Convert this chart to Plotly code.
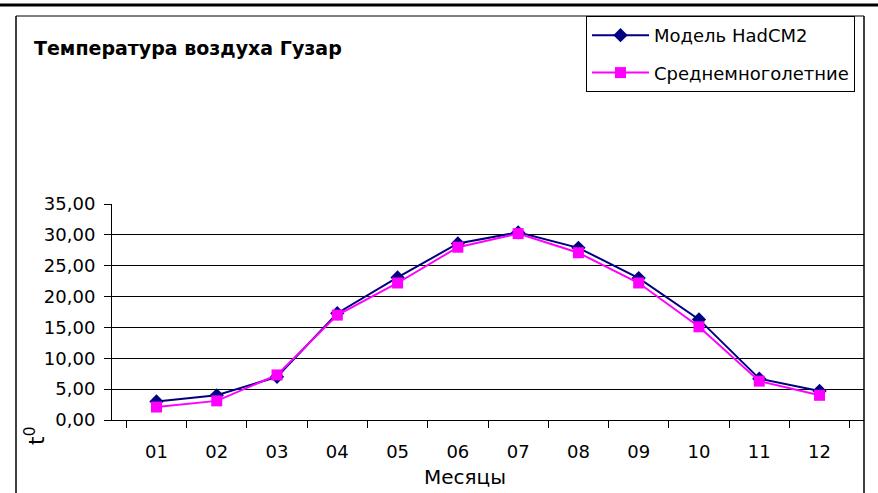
import plotly.graph_objects as go

months = ["01", "02", "03", "04", "05", "06", "07", "08", "09", "10", "11", "12"]
model_hadcm2 = [3.0, 4.0, 7.0, 17.3, 23.1, 28.6, 30.4, 27.9, 23.0, 16.3, 6.7, 4.7]
long_term_mean = [2.1, 3.1, 7.3, 17.0, 22.2, 28.0, 30.2, 27.1, 22.2, 15.1, 6.3, 4.0]
series_names = ["Модель HadCM2", "Среднемноголетние"]
y_ticks = [0, 5, 10, 15, 20, 25, 30, 35]

W, H = 878, 493
L, R, T, B = 112, 864, 204, 420


def px(x):
    return (x - L) / (R - L)


def py(y):
    return (B - y) / (B - T)


FONT = "DejaVu Sans, Arial, sans-serif"

fig = go.Figure()
fig.add_trace(go.Scatter(
    x=months, y=model_hadcm2, name=series_names[0], mode="lines+markers",
    line=dict(color="#000080", width=2),
    marker=dict(symbol="diamond", size=11, color="#000080"),
    legendgroup="a",
))
fig.add_trace(go.Scatter(
    x=months, y=long_term_mean, name=series_names[1], mode="lines+markers",
    line=dict(color="#FF00FF", width=2),
    marker=dict(symbol="square", size=11, color="#FF00FF"),
    legendgroup="b",
))

shapes = [
    dict(type="line", xref="paper", yref="paper", x0=px(0), x1=px(W), y0=py(5), y1=py(5),
         line=dict(color="black", width=3)),
    dict(type="line", xref="paper", yref="paper", x0=px(16), x1=px(864), y0=py(16), y1=py(16),
         line=dict(color="black", width=1)),
    dict(type="line", xref="paper", yref="paper", x0=px(16), x1=px(16), y0=py(16), y1=py(H + 5),
         line=dict(color="black", width=1.5)),
    dict(type="line", xref="paper", yref="paper", x0=px(864), x1=px(864), y0=py(16), y1=py(H + 5),
         line=dict(color="black", width=1.5)),
]

annotations = [
    dict(text="<b>Температура воздуха Гузар</b>", xref="paper", yref="paper",
         x=px(32), y=py(48), xanchor="left", yanchor="middle", showarrow=False,
         font=dict(family=FONT, size=19, color="black")),
    dict(text="t<sup>0</sup>", xref="paper", yref="paper", textangle=-90,
         x=px(35), y=py(436), xanchor="center", yanchor="middle", showarrow=False,
         font=dict(family=FONT, size=22, color="black")),
    dict(text="Месяцы", xref="paper", yref="paper",
         x=px(465), y=py(477), xanchor="center", yanchor="middle", showarrow=False,
         font=dict(family=FONT, size=20, color="black")),
]

fig.update_layout(
    width=W, height=H,
    margin=dict(l=L, r=W - R, t=T, b=H - B, pad=0),
    paper_bgcolor="white", plot_bgcolor="white",
    separators=", ",
    font=dict(family=FONT, size=18, color="black"),
    showlegend=True,
    legend=dict(
        x=px(586), y=py(16), xanchor="left", yanchor="top",
        bordercolor="black", borderwidth=1, bgcolor="white",
        font=dict(family=FONT, size=18, color="black"),
        itemwidth=57, tracegroupgap=11, traceorder="grouped",
    ),
    shapes=shapes,
    annotations=annotations,
    xaxis=dict(
        type="category", showline=True, linecolor="black", linewidth=1,
        ticks="outside", tickson="boundaries", ticklen=7, tickcolor="black",
        showgrid=False, zeroline=False, ticklabelstandoff=15,
        tickfont=dict(family=FONT, size=18, color="black"),
    ),
    yaxis=dict(
        range=[0, 35], tickvals=y_ticks, tickformat=".2f",
        showline=True, linecolor="black", linewidth=1,
        ticks="outside", ticklen=7, tickcolor="black",
        showgrid=True, gridcolor="black", gridwidth=1, zeroline=False,
        ticklabelstandoff=5,
        tickfont=dict(family=FONT, size=18, color="black"),
    ),
)

fig.write_html(
    "out.html",
    config={"displayModeBar": False},
    post_script="document.body.style.margin='0';document.body.style.overflow='hidden';",
)
